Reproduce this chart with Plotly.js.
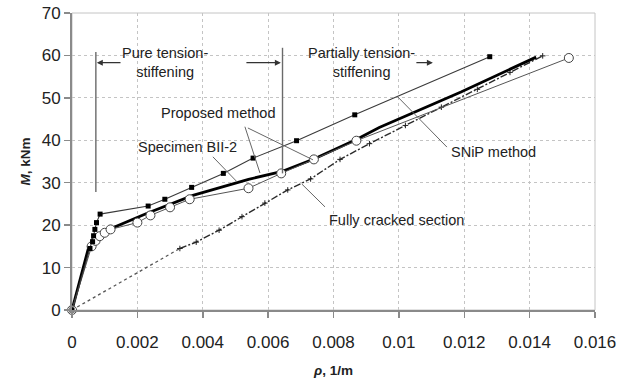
<!DOCTYPE html>
<html>
<head>
<meta charset="utf-8">
<script src="https://cdn.plot.ly/plotly-3.0.1.min.js"></script>
<style>
  html, body { margin: 0; padding: 0; background: #fff; }
  #chart { width: 629px; height: 378px; }
</style>
</head>
<body>
<div id="chart"></div>
<script>
// Curvature rho (1/m) versus bending moment M (kNm)

// SNiP method
const snipRho = [0, 0.00055, 0.00063, 0.00066, 0.0007, 0.00075, 0.00086, 0.00233, 0.00284, 0.00366, 0.00463, 0.00554, 0.00687, 0.00865, 0.01278];
const snipM   = [0, 14.5, 16.1, 17.5, 19.0, 20.6, 22.6, 24.5, 26.1, 28.9, 32.2, 35.8, 39.9, 46.0, 59.7];

// Specimen BII-2 (test)
const specRho = [0, 0.0006, 0.00072, 0.00085, 0.001, 0.00118, 0.002, 0.0024, 0.003, 0.0036, 0.0054, 0.0064, 0.0074, 0.0087, 0.0152];
const specM   = [0, 15.0, 16.3, 17.4, 18.2, 19.0, 20.6, 22.3, 24.2, 26.1, 28.7, 32.2, 35.5, 39.9, 59.4];

// Proposed method
const propRho = [0, 0.0005, 0.0012, 0.0023, 0.0037, 0.0054, 0.0064, 0.0074, 0.0087, 0.0094, 0.0119, 0.0142];
const propM   = [0, 14.5, 19.2, 22.8, 27.0, 30.8, 32.6, 35.6, 40.2, 43.0, 51.4, 59.6];

// Fully cracked section: initial dotted part, then marked part
const fcInitRho = [0, 0.0033];
const fcInitM   = [0, 14.5];
const fcRho = [0.0033, 0.0038, 0.0045, 0.0052, 0.0059, 0.0066, 0.0073, 0.0082, 0.0091, 0.0102, 0.0113, 0.0124, 0.0134, 0.0144];
const fcM   = [14.5, 16.0, 18.8, 22.0, 25.2, 28.3, 30.9, 35.5, 39.2, 43.5, 47.8, 52.0, 56.0, 59.9];

const xTicks = [0, 0.002, 0.004, 0.006, 0.008, 0.01, 0.012, 0.014, 0.016];
const xTickText = ['0', '0.002', '0.004', '0.006', '0.008', '0.01', '0.012', '0.014', '0.016'];
const yTicks = [0, 10, 20, 30, 40, 50, 60, 70];

const FONT = '"Liberation Sans", Arial, Helvetica, sans-serif';
const TXT = '#222222';

const traces = [
  { x: fcInitRho, y: fcInitM, mode: 'lines',
    line: { color: '#555555', width: 1.3, dash: 'dot' }, cliponaxis: false },
  { x: fcRho, y: fcM, mode: 'lines+markers',
    line: { color: '#2a2a2a', width: 1.4, dash: '7px,2px,2px,2px' },
    marker: { symbol: 'cross-thin', size: 4, line: { color: '#222222', width: 1 } } },
  { x: propRho, y: propM, mode: 'lines',
    line: { color: '#000000', width: 2.8 }, cliponaxis: false },
  { x: specRho, y: specM, mode: 'lines+markers',
    line: { color: '#555555', width: 1 },
    marker: { symbol: 'circle', size: 9, color: '#ffffff', line: { color: '#444444', width: 1 } },
    cliponaxis: false },
  { x: snipRho, y: snipM, mode: 'lines+markers',
    line: { color: '#3a3a3a', width: 1.1 },
    marker: { symbol: 'square', size: 5, color: '#000000' }, cliponaxis: false }
];

const lead = { color: '#666666', width: 1 };
function seg(x0, y0, x1, y1, line) {
  return { type: 'line', xref: 'x', yref: 'y', x0, y0, x1, y1, line, layer: 'above' };
}

const shapes = [
  { type: 'rect', xref: 'paper', yref: 'paper', x0: 0, y0: 0, x1: 1, y1: 1,
    line: { color: '#c4c4c4', width: 1 }, layer: 'below' },
  // zone boundaries
  seg(0.00073, 27.8, 0.00073, 60.8, { color: '#6a6a6a', width: 1.4 }),
  seg(0.00644, 32.2, 0.00644, 61.8, { color: '#6a6a6a', width: 1.4 }),
  // leaders
  seg(0.00529, 43.2, 0.00575, 32.3, lead),
  seg(0.00538, 42.9, 0.00737, 35.4, lead),
  seg(0.00431, 36.1, 0.00505, 30.2, lead),
  seg(0.01147, 38.4, 0.00997, 50.2, lead),
  seg(0.00774, 24.3, 0.00703, 29.7, lead)
];

function arrow(xTail, xHead, yv) {
  return { x: xHead, y: yv, ax: xTail, ay: yv, xref: 'x', yref: 'y', axref: 'x', ayref: 'y',
    text: '', showarrow: true, arrowhead: 2, arrowsize: 1, arrowwidth: 1.2,
    arrowcolor: '#333333', standoff: 0, startstandoff: 0 };
}
function label(text, x, y) {
  return { x, y, xref: 'x', yref: 'y', text, showarrow: false,
    font: { family: FONT, size: 14.5, color: TXT }, align: 'center' };
}

const annotations = [
  arrow(0.00153, 0.00076, 58.3),
  arrow(0.00529, 0.00639, 58.3),
  arrow(0.01049, 0.01104, 58.3),
  label('Pure tension-<br>stiffening', 0.00284, 58.4),
  label('Partially tension-<br>stiffening', 0.00887, 58.4),
  label('Proposed method', 0.00446, 46.5),
  label('Specimen BII-2', 0.00352, 38.4),
  label('SNiP method', 0.0129, 37.3),
  label('Fully cracked section', 0.00994, 21.2)
];

const layout = {
  width: 629, height: 378,
  margin: { l: 72, r: 34, t: 13, b: 68 },
  paper_bgcolor: '#ffffff', plot_bgcolor: '#ffffff',
  showlegend: false,
  font: { family: FONT, color: TXT },
  xaxis: {
    range: [0, 0.016], tickvals: xTicks, ticktext: xTickText,
    showgrid: true, gridcolor: '#c4c4c4', griddash: 'dot', gridwidth: 1,
    zeroline: false, showline: true, linecolor: '#8a8a8a', linewidth: 2,
    ticks: 'outside', ticklen: 6, tickcolor: '#8a8a8a', tickwidth: 1.5,
    ticklabelstandoff: 10,
    tickfont: { family: FONT, size: 17, color: TXT },
    title: { text: '<b><i>ρ</i>, 1/m</b>', font: { family: FONT, size: 13.5, color: TXT }, standoff: 14 }
  },
  yaxis: {
    range: [0, 70], tickvals: yTicks,
    showgrid: true, gridcolor: '#c4c4c4', griddash: 'dot', gridwidth: 1,
    zeroline: false, showline: true, linecolor: '#8a8a8a', linewidth: 2,
    ticks: 'outside', ticklen: 6, tickcolor: '#8a8a8a', tickwidth: 1.5,
    tickfont: { family: FONT, size: 17, color: TXT },
    title: { text: '<b><i>M</i>, kNm</b>', font: { family: FONT, size: 13.5, color: TXT }, standoff: 8 }
  },
  shapes, annotations
};

Plotly.newPlot('chart', traces, layout, { displayModeBar: false, staticPlot: true });
</script>
</body>
</html>
